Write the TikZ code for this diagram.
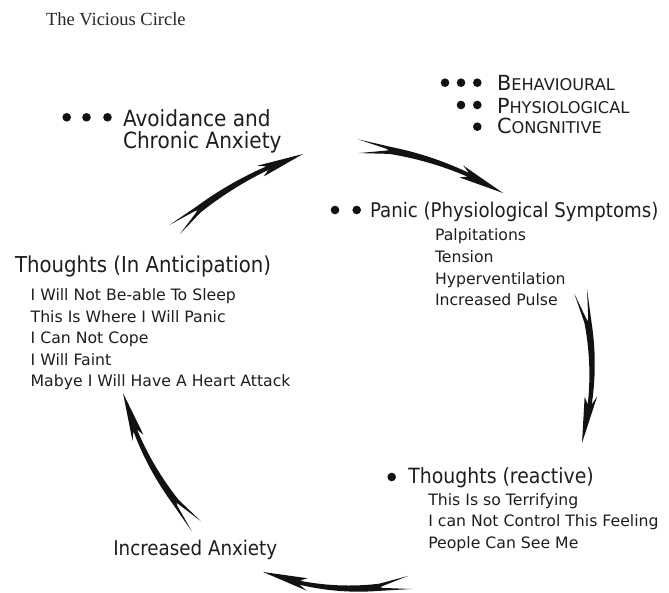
\documentclass[tikz,border=0pt]{standalone}
\usepackage{fontspec}
\setmainfont{DejaVu Sans}
\newfontfamily\headfont{DejaVu Sans}[FakeStretch=0.9]
\newfontfamily\titlefont{Liberation Serif}
\definecolor{txtc}{HTML}{1E1E1E}
\definecolor{arrowc}{HTML}{121212}
\newcommand\vcy[1]{4*\vcB*#1*(1-#1)}
\newcommand\vcarrow[3]{%
  \pgfpointdiff{\pgfpointanchor{#1}{center}}{\pgfpointanchor{#2}{center}}%
  \pgfgetlastxy{\vcdx}{\vcdy}%
  \pgfmathsetmacro\vcL{veclen(\vcdx,\vcdy)}%
  \pgfmathsetmacro\vcA{atan2(\vcdy,\vcdx)}%
  \def\vcB{#3}%
  \begin{scope}[shift={(#1)}, rotate=\vcA, x=1pt, y=1pt]
    \fill[arrowc]
      (\vcL,0)
      -- ({0.70*\vcL},{\vcy{0.70}+6.5})
      -- ({0.75*\vcL},{\vcy{0.75}+2})
      -- plot[variable=\u, domain=0.75:0.22, samples=14] ({\u*\vcL},{4*\vcB*\u*(1-\u)+2+(0.75-\u)*3})
      -- (0,7)
      -- ({0.19*\vcL},{\vcy{0.19}+1.1})
      -- ({0.21*\vcL},{\vcy{0.21}})
      -- ({0.19*\vcL},{\vcy{0.19}-1.1})
      -- ({0.03*\vcL},{\vcy{0.03}-7})
      -- plot[variable=\u, domain=0.22:0.75, samples=14] ({\u*\vcL},{4*\vcB*\u*(1-\u)-2-(0.75-\u)*3})
      -- ({0.70*\vcL},{\vcy{0.70}-6})
      -- cycle;
  \end{scope}}
\newcommand\fsc[2]{{\fontsize{20.8}{24}\selectfont #1{\fontsize{16.2}{20}\selectfont #2}}}
\begin{document}
\begin{tikzpicture}[x=1pt,y=-1pt,
  every node/.style={inner sep=0pt, outer sep=0pt, text=txtc},
  head/.style={anchor=base west, font=\headfont\fontsize{21}{24}\selectfont},
  sub/.style={anchor=base west, font=\fontsize{15.7}{19}\selectfont},
  leg/.style={anchor=base west},
  dot/.style={circle, fill=arrowc, minimum size=8.6pt}]
\fill[white] (0,0) rectangle (669,593);
\useasboundingbox (0,0) rectangle (669,593);

\node[anchor=base west, font=\titlefont\fontsize{18.5}{20}\selectfont, text=black!85] (title) at (46,26) {The Vicious Circle};

% legend
\node[dot] (l11) at (445,82.7) {};
\node[dot] (l12) at (461,82.7) {};
\node[dot] (l13) at (477.3,82.7) {};
\node[leg] (beh) at (497,90.7) {\fsc{B}{EHAVIOURAL}};
\node[dot] (l21) at (461,105) {};
\node[dot] (l22) at (477.3,105) {};
\node[leg] (phy) at (497,113.3) {\fsc{P}{HYSIOLOGICAL}};
\node[dot] (l31) at (477.3,126.7) {};
\node[leg] (cog) at (497,134) {\fsc{C}{ONGNITIVE}};

% avoidance
\node[dot] (a1) at (66.7,117.3) {};
\node[dot] (a2) at (86.5,117.3) {};
\node[dot] (a3) at (107.5,117.3) {};
\node[head, font=\headfont\fontsize{22.3}{24}\selectfont] (avo1) at (123,127) {Avoidance and};
\node[head, font=\headfont\fontsize{22.3}{24}\selectfont] (avo2) at (123,148.5) {Chronic Anxiety};

% panic
\node[dot] (p1) at (335,210) {};
\node[dot] (p2) at (356.7,210) {};
\node[head, font=\headfont\fontsize{20.2}{24}\selectfont] (panic) at (370,217.3) {Panic (Physiological Symptoms)};
\node[sub] (ps1) at (435,240.7) {Palpitations};
\node[sub] (ps2) at (435,262.5) {Tension};
\node[sub] (ps3) at (435,284.3) {Hyperventilation};
\node[sub] (ps4) at (435,306) {Increased Pulse};

% anticipation
\node[head, font=\headfont\fontsize{21.9}{24}\selectfont] (ant) at (15,272.3) {Thoughts (In Anticipation)};
\node[sub] (an1) at (30.7,301) {I Will Not Be-able To Sleep};
\node[sub] (an2) at (30.7,322.4) {This Is Where I Will Panic};
\node[sub] (an3) at (30.7,343.8) {I Can Not Cope};
\node[sub] (an4) at (30.7,365.2) {I Will Faint};
\node[sub] (an5) at (30.7,386.6) {Mabye I Will Have A Heart Attack};

% reactive
\node[dot] (r1) at (391.7,477) {};
\node[head] (rea) at (408.3,483.3) {Thoughts (reactive)};
\node[sub] (re1) at (428.3,505) {This Is so Terrifying};
\node[sub] (re2) at (428.3,526.7) {I can Not Control This Feeling};
\node[sub] (re3) at (428.3,548.3) {People Can See Me};

% increased anxiety
\node[head, font=\headfont\fontsize{20.3}{24}\selectfont] (inc) at (113.3,555) {Increased Anxiety};

% arrows
\coordinate (t1) at (173,231);   \coordinate (h1) at (303,154);
\coordinate (t2) at (356,146);   \coordinate (h2) at (503,193);
\coordinate (t3) at (580,289);   \coordinate (h3) at (582,443);
\coordinate (t4) at (412,582);   \coordinate (h4) at (263,572);
\coordinate (t5) at (198,528);   \coordinate (h5) at (123,393);
\vcarrow{t1}{h1}{8}
\vcarrow{t2}{h2}{9}
\vcarrow{t3}{h3}{11}
\vcarrow{t4}{h4}{11}
\vcarrow{t5}{h5}{10}
\end{tikzpicture}
\end{document}
